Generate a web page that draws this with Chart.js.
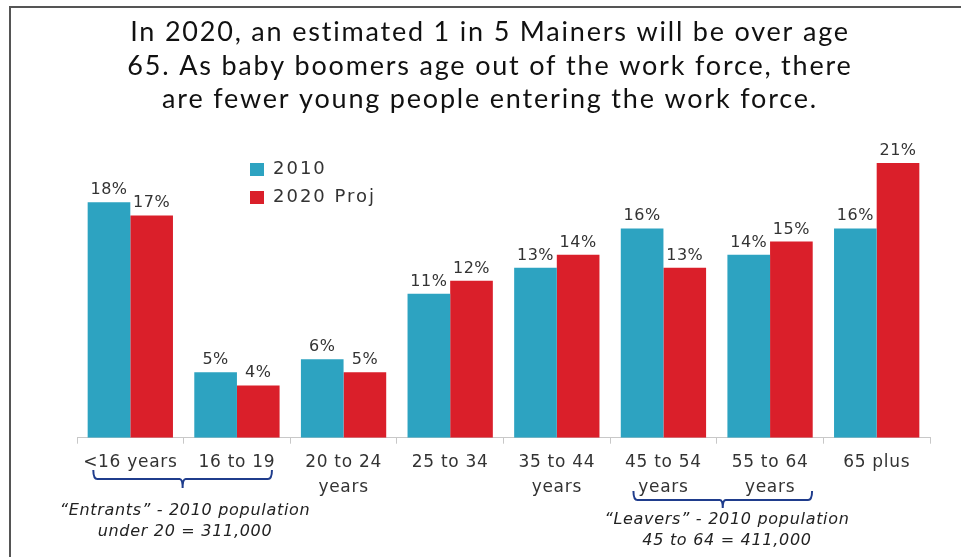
<!DOCTYPE html>
<html>
<head>
<meta charset="utf-8">
<title>Maine population by age group</title>
<script src="https://cdn.jsdelivr.net/npm/chart.js@4.4.1/dist/chart.umd.min.js"></script>
<style>
  html, body { margin: 0; padding: 0; background: #fff; }
  #wrap { position: relative; width: 961px; height: 557px; }
  #frame { position: absolute; left: 9px; top: 6px; right: 0; bottom: 0;
           border-left: 2px solid #555; border-top: 2px solid #555; pointer-events: none; }
</style>
</head>
<body>
<div id="wrap">
  <canvas id="ageChart" width="961" height="557"></canvas>
  <div id="frame"></div>
</div>
<script>
// Share of Maine population by age group
const ageGroups = ['<16 years', '16 to 19', ['20 to 24', 'years'], '25 to 34',
  ['35 to 44', 'years'], ['45 to 54', 'years'], ['55 to 64', 'years'], '65 plus'];
const pct2010 = [18, 5, 6, 11, 13, 16, 14, 16];
const pct2020 = [17, 4, 5, 12, 14, 13, 15, 21];

const titleLines = [
  'In 2020, an estimated 1 in 5 Mainers will be over age',
  '65. As baby boomers age out of the work force, there',
  'are fewer young people entering the work force.'
];

// Bracket notes under the axis: first/last category index and two text lines
const bracketNotes = [
  { from: 0, to: 1, lines: ['\u201CEntrants\u201D - 2010 population', 'under 20 = 311,000'] },
  { from: 5, to: 6, lines: ['\u201CLeavers\u201D - 2010 population', '45 to 64 = 411,000'] }
];

const TEAL = '#2DA3C1';
const RED = '#DA1F2A';

// tracking: wide for the title, a little less for the axis labels
const spacing = {
  id: 'spacing',
  beforeDraw(chart) {
    chart.ctx.letterSpacing = '1.8px';
  },
  beforeDatasetsDraw(chart) {
    chart.ctx.letterSpacing = '0.7px';
  }
};

// value labels above each bar
const barLabels = {
  id: 'barLabels',
  afterDatasetsDraw(chart) {
    const ctx = chart.ctx;
    ctx.save();
    ctx.font = '16px "DejaVu Sans"';
    ctx.letterSpacing = '0.5px';
    ctx.fillStyle = '#333';
    ctx.textAlign = 'center';
    ctx.textBaseline = 'alphabetic';
    chart.data.datasets.forEach((ds, i) => {
      chart.getDatasetMeta(i).data.forEach((bar, j) => {
        ctx.fillText(ds.data[j] + '%', bar.x, bar.y - 8);
      });
    });
    ctx.restore();
  }
};

// legend box sitting inside the plot
const innerLegend = {
  id: 'innerLegend',
  afterDraw(chart) {
    const ctx = chart.ctx;
    const x = chart.chartArea.left + 173;
    let y = 163;
    ctx.save();
    ctx.font = '18px "DejaVu Sans"';
    ctx.letterSpacing = '2px';
    ctx.textBaseline = 'middle';
    ctx.textAlign = 'left';
    chart.data.datasets.forEach(ds => {
      ctx.fillStyle = ds.backgroundColor;
      ctx.fillRect(x, y, 14, 13);
      ctx.fillStyle = '#333';
      ctx.fillText(ds.label, x + 23, y + 6);
      y += 28;
    });
    ctx.restore();
  }
};

// curly brackets and notes below the category labels
const brackets = {
  id: 'brackets',
  afterDraw(chart) {
    const ctx = chart.ctx;
    const xs = chart.scales.x;
    const styles = [
      { dl: -37, dr: 35, top: 470, tip: 488, textX: 185, textY: 511 },
      { dl: -30, dr: 42, top: 491, tip: 508, textX: 727, textY: 520 }
    ];
    ctx.save();
    bracketNotes.forEach((note, k) => {
      const s = styles[k];
      const x0 = xs.getPixelForValue(note.from) + s.dl;
      const x1 = xs.getPixelForValue(note.to) + s.dr;
      const xm = (x0 + x1) / 2;
      const mid = s.top + 9;
      const r = 4;
      ctx.strokeStyle = '#1F3C8C';
      ctx.lineWidth = 2;
      ctx.beginPath();
      ctx.moveTo(x0, s.top);
      ctx.quadraticCurveTo(x0, mid, x0 + r, mid);
      ctx.lineTo(xm - 3, mid);
      ctx.quadraticCurveTo(xm, mid, xm, s.tip);
      ctx.quadraticCurveTo(xm, mid, xm + 3, mid);
      ctx.lineTo(x1 - r, mid);
      ctx.quadraticCurveTo(x1, mid, x1, s.top);
      ctx.stroke();

      ctx.font = 'italic 16px "DejaVu Sans"';
      ctx.letterSpacing = '0.7px';
      ctx.fillStyle = '#222';
      ctx.textAlign = 'center';
      ctx.textBaseline = 'middle';
      note.lines.forEach((line, i) => {
        ctx.fillText(line, s.textX, s.textY + i * 21);
      });
    });
    ctx.restore();
  }
};

new Chart(document.getElementById('ageChart'), {
  type: 'bar',
  data: {
    labels: ageGroups,
    datasets: [
      { label: '2010', data: pct2010, backgroundColor: TEAL, borderWidth: 0 },
      { label: '2020 Proj', data: pct2020, backgroundColor: RED, borderWidth: 0 }
    ]
  },
  options: {
    responsive: false,
    animation: false,
    events: [],
    layout: { padding: { left: 50, right: 31, top: 0, bottom: 50 } },
    datasets: { bar: { categoryPercentage: 0.8, barPercentage: 1.0 } },
    plugins: {
      legend: { display: false },
      tooltip: { enabled: false },
      title: {
        display: true,
        text: titleLines,
        color: '#111',
        font: { family: 'Lato', size: 27, weight: 'normal', lineHeight: 1.233 },
        padding: { top: 16, bottom: 8 }
      }
    },
    scales: {
      x: {
        grid: { display: true, drawOnChartArea: false, drawTicks: true, tickLength: 6,
                color: '#c8c8c8', offset: true },
        border: { display: true, color: '#c8c8c8' },
        ticks: {
          z: 1,
          font: { family: 'DejaVu Sans', size: 17, lineHeight: 1.45 },
          color: '#333',
          padding: 7,
          maxRotation: 0,
          autoSkip: false
        }
      },
      y: {
        min: 0,
        max: 24,
        grid: { display: false },
        border: { display: false },
        ticks: { display: false },
        afterFit(scale) { scale.width = 27; }
      }
    }
  },
  plugins: [spacing, barLabels, innerLegend, brackets]
});
</script>
</body>
</html>
